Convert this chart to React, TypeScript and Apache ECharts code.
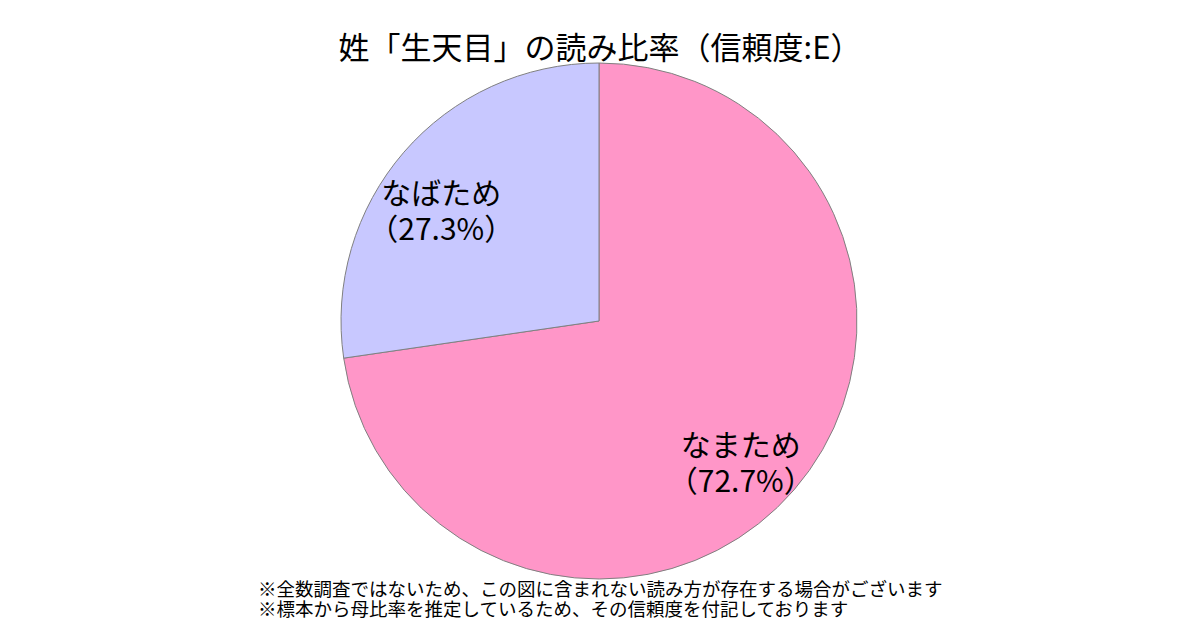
import React, { useEffect, useRef } from "react";
import * as echarts from "echarts";

const titleText = "姓「生天目」の読み比率（信頼度:E）";
const readings = ["なまため", "なばため"];
const percents = [72.7, 27.3];
const colors = ["#FF96C8", "#C8C8FF"];
const notes = [
  "※全数調査ではないため、この図に含まれない読み方が存在する場合がございます",
  "※標本から母比率を推定しているため、その信頼度を付記しております",
];

export default function App() {
  const ref = useRef<HTMLDivElement>(null);
  useEffect(() => {
    if (!ref.current) return;
    const chart = echarts.init(ref.current, undefined, { renderer: "svg" });
    const font = '"Noto Sans CJK JP", "Noto Sans", sans-serif';
    const labelOffsets = [[-8, 10], [-8, 18]];
    const data = readings.map((name, i) => ({
      name,
      value: percents[i],
      itemStyle: { color: colors[i] },
    }));
    chart.setOption({
      animation: false,
      backgroundColor: "#ffffff",
      title: {
        text: titleText,
        left: "center",
        top: 25,
        textStyle: { fontFamily: font, fontSize: 31, fontWeight: "normal", color: "#000" },
      },
      graphic: notes.map((t, i) => ({
        type: "text",
        left: 258,
        top: 578 + i * 20,
        style: { text: t, fontFamily: font, fontSize: 18.5, lineHeight: 20, fill: "#000" },
        z: 100,
      })),
      series: [
        {
          type: "pie",
          center: [599, 321],
          radius: [0, 258],
          startAngle: 90,
          clockwise: true,
          silent: true,
          label: { show: false },
          labelLine: { show: false },
          itemStyle: { borderColor: "#808080", borderWidth: 1 },
          data,
        },
        {
          type: "pie",
          center: [599, 321],
          radius: [132, 258],
          startAngle: 90,
          clockwise: true,
          silent: true,
          itemStyle: { color: "rgba(0,0,0,0)", borderWidth: 0 },
          labelLine: { show: false },
          label: {
            show: true,
            position: "inside",
            fontFamily: font,
            fontSize: 30,
            lineHeight: 36,
            color: "#000",
            formatter: (p: any) => `${p.name}\n（${p.value.toFixed(1)}%）`,
          },
          data: readings.map((name, i) => ({
            name,
            value: percents[i],
            label: { offset: labelOffsets[i] },
          })),
        },
      ],
    });
    return () => chart.dispose();
  }, []);
  return <div ref={ref} style={{ width: 1200, height: 630, position: "absolute", left: 0, top: 0 }} />;
}
